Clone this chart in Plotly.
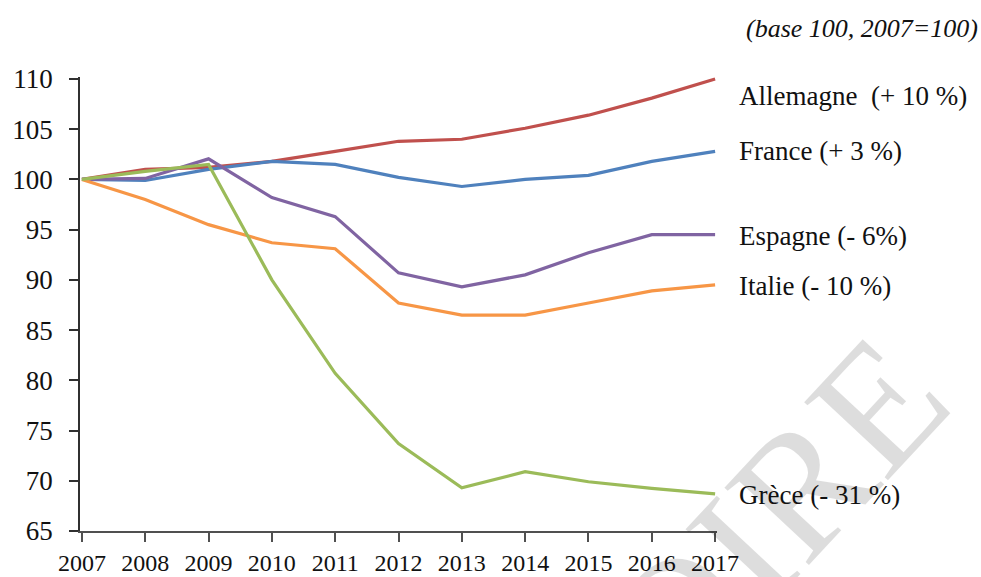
import plotly.graph_objects as go

years = list(range(2007, 2018))

allemagne = [100, 101.0, 101.2, 101.8, 102.8, 103.8, 104.0, 105.1, 106.4, 108.1, 110.0]
france = [100, 99.9, 101.0, 101.8, 101.5, 100.2, 99.3, 100.0, 100.4, 101.8, 102.8]
espagne = [100, 100.1, 102.05, 98.2, 96.3, 90.7, 89.3, 90.5, 92.7, 94.5, 94.5]
italie = [100, 98.0, 95.5, 93.7, 93.1, 87.7, 86.5, 86.5, 87.7, 88.9, 89.5]
grece = [100, 100.8, 101.5, 90.0, 80.7, 73.7, 69.3, 70.9, 69.9, 69.25, 68.7]

series_names = ["Allemagne", "France", "Espagne", "Italie", "Grèce"]
series_values = [allemagne, france, espagne, italie, grece]
series_labels = ["Allemagne  (+ 10 %)", "France (+ 3 %)", "Espagne (- 6%)",
                 "Italie (- 10 %)", "Grèce (- 31 %)"]
colors = ["#C0504D", "#4F81BD", "#8064A2", "#F79646", "#9BBB59"]
# vertical nudge of each end label relative to the last value
label_shift = [-1.7, 0.0, -0.1, -0.1, -0.1]

y_ticks = list(range(65, 111, 5))

serif = "Liberation Serif"

fig = go.Figure()

for name, vals, col in zip(series_names, series_values, colors):
    fig.add_trace(go.Scatter(x=years, y=vals, mode="lines", name=name,
                             line=dict(color=col, width=3.2)))

annotations = [
    # translucent grey so dark text underneath stays readable
    dict(text="OIRE", xref="paper", yref="paper", x=1.091, y=0.035,
         xanchor="center", yanchor="middle",
         showarrow=False, textangle=-47,
         font=dict(family=serif, size=175, color="rgba(0,0,0,0.135)")),
]
for lab, vals, sh in zip(series_labels, series_values, label_shift):
    annotations.append(dict(text=lab, x=1.0, xshift=20, y=vals[-1] + sh,
                            xref="paper", yref="y",
                            xanchor="left", yanchor="middle", showarrow=False,
                            font=dict(family=serif, size=27, color="#111111")))
annotations.append(dict(text="<i>(base 100, 2007=100)</i>", xref="paper", yref="paper",
                        x=1.0, y=1.0, xanchor="right", yanchor="middle", showarrow=False,
                        xshift=263, yshift=49,
                        font=dict(family=serif, size=26, color="#111111")))

fig.update_layout(
    width=981, height=577,
    margin=dict(l=80, r=264, t=77, b=46, autoexpand=False),
    paper_bgcolor="white", plot_bgcolor="white",
    showlegend=False,
    annotations=annotations,
    font=dict(family=serif, size=27, color="#111111"),
)
fig.update_xaxes(range=[2006.97, 2017.03], tickmode="array", tickvals=years,
                 ticktext=[str(y) for y in years], automargin=False,
                 showgrid=False, zeroline=False, showline=True, linecolor="#505050",
                 linewidth=1.5, ticks="outside", ticklen=9, tickcolor="#505050",
                 tickwidth=1.5, ticklabelstandoff=0,
                 tickfont=dict(family=serif, size=24, color="#111111"))
fig.update_yaxes(range=[65, 110.2], tickmode="array", tickvals=y_ticks,
                 automargin=False,
                 showgrid=False, zeroline=False, showline=True, linecolor="#303030",
                 linewidth=1.5, ticks="outside", ticklen=9, tickcolor="#303030",
                 tickwidth=1.5, ticklabelstandoff=11,
                 tickfont=dict(family=serif, size=27, color="#111111"))

fig.write_html("out.html")
